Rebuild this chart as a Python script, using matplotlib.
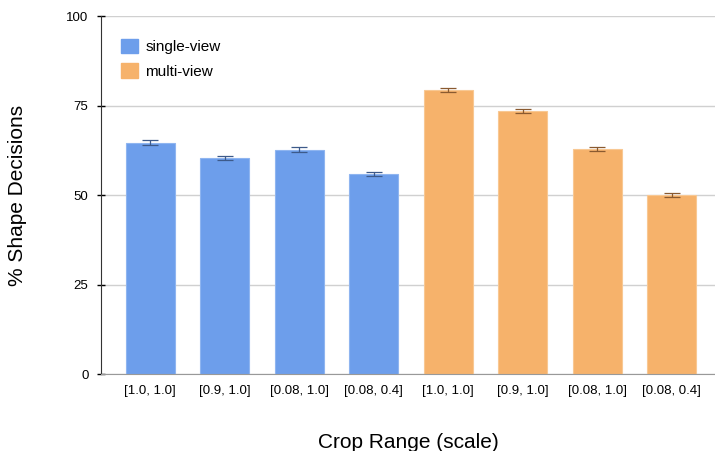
import matplotlib
matplotlib.use("Agg")
import matplotlib.pyplot as plt

plt.rcParams['font.family'] = ['Liberation Sans', 'DejaVu Sans']

categories = ["[1.0, 1.0]", "[0.9, 1.0]", "[0.08, 1.0]", "[0.08, 0.4]"]
single_view = [64.6, 60.4, 62.6, 55.9]
multi_view = [79.3, 73.4, 62.9, 50.0]
single_err = [0.7, 0.6, 0.7, 0.6]
multi_err = [0.6, 0.6, 0.6, 0.6]
yticks = [0, 25, 50, 75, 100]

blue = "#6D9EEB"
orange = "#F6B26B"

fig = plt.figure(figsize=(7.15, 4.51), dpi=100)
ax = fig.add_axes([0.1413, 0.1707, 0.8587, 0.7938])

xs1 = list(range(4))
xs2 = list(range(4, 8))
w = 0.66
ax.bar(xs1, single_view, width=w, color=blue, edgecolor="#8fb5f0", linewidth=0.8, zorder=3,
       yerr=single_err, error_kw=dict(ecolor="#3d5a8a", elinewidth=0.9, capsize=6, capthick=0.9, zorder=4))
ax.bar(xs2, multi_view, width=w, color=orange, edgecolor="#f8c893", linewidth=0.8, zorder=3,
       yerr=multi_err, error_kw=dict(ecolor="#8a5a30", elinewidth=0.9, capsize=6, capthick=0.9, zorder=4))

ax.set_xlim(-0.66, 7.58)
ax.set_ylim(0, 100)
ax.set_yticks(yticks)
ax.set_yticklabels([str(t) for t in yticks], fontsize=9.5)
ax.set_xticks(xs1 + xs2)
ax.set_xticklabels(categories + categories, fontsize=9.5)
ax.tick_params(axis='x', length=0, pad=8)
ax.tick_params(axis='y', length=6, direction='inout', width=1, pad=6)
ax.grid(axis='y', color='#d0d0d0', linewidth=1, zorder=0)
for s in ['top', 'right']:
    ax.spines[s].set_visible(False)
ax.spines['left'].set_color('#333333')
ax.spines['bottom'].set_color('#999999')
ax.spines['bottom'].set_zorder(5)

ax.set_ylabel("% Shape Decisions", fontsize=15, labelpad=28)
ax.set_xlabel("Crop Range (scale)", fontsize=15, labelpad=26)

handles = [plt.Rectangle((0, 0), 1, 1, color=blue), plt.Rectangle((0, 0), 1, 1, color=orange)]
leg = ax.legend(handles, ["single-view", "multi-view"], loc='upper left', bbox_to_anchor=(0.01, 0.975),
                frameon=False, fontsize=11, handlelength=1.1, handleheight=1.1, handletextpad=0.5,
                labelspacing=0.6)

fig.savefig("out.png", dpi=100)
